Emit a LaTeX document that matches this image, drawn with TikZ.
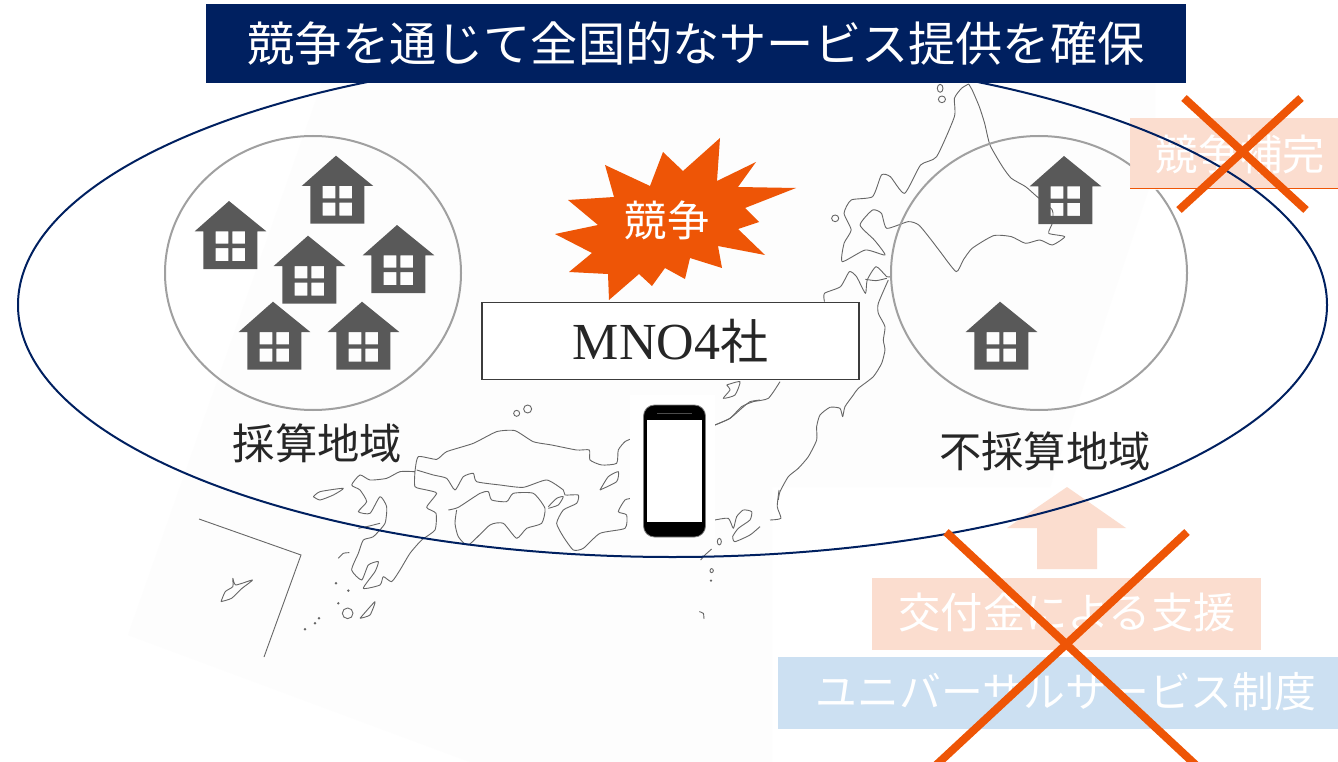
\documentclass[tikz,border=0pt]{standalone}
\usepackage{fontspec}
\setmainfont{Liberation Serif}
\newfontfamily\jp{Noto Sans CJK JP}
\definecolor{navy}{HTML}{002060}
\definecolor{burst}{HTML}{EE5506}
\definecolor{peach}{HTML}{FBDDCF}
\definecolor{paleblue}{HTML}{CCE0F2}
\definecolor{hut}{HTML}{595959}
\definecolor{ringgray}{HTML}{A0A0A0}
\definecolor{ink}{HTML}{262626}
\definecolor{coast}{HTML}{666666}
\definecolor{sheet}{HTML}{FDFDFD}
\tikzset{
  coastline/.style={draw=coast,line width=0.9pt,line join=round},
  ring/.style={draw=ringgray,line width=2pt},
  jptext/.style={font=\jp\fontsize{42.3}{46}\selectfont,inner sep=0pt},
  dimtext/.style={jptext,text=white},
  crossline/.style={draw=burst,line width=8pt},
  hutpic/.pic={
    \fill[hut,even odd rule] (0,0) -- (37.3,30.3) -- (28.3,30.3) -- (28.3,68) -- (-25.7,68) -- (-25.7,30.3) -- (-34.3,30.3) -- cycle
      (-13.3,30.3) rectangle (-0.7,42.7) (3.3,30.3) rectangle (16,42.7)
      (-13.3,47) rectangle (-0.7,60) (3.3,47) rectangle (16,60);
  }
}
\newcommand{\coastplot}[1]{\draw[coastline] plot[smooth,tension=0.35] coordinates {#1};}
\begin{document}
\begin{tikzpicture}[x=1pt,y=-1pt]
\useasboundingbox (0,0) rectangle (1338,762);
\clip (0,0) rectangle (1338,762);
\fill[white] (0,0) rectangle (1338,762);
% faint map sheet
\fill[sheet] (322,83) -- (1155,83) -- (1155,170) -- (1050,487) -- (772,487) -- (772,762) -- (470,762) -- (128,635) -- cycle;
% Hokkaido and northern Honshu
\begin{scope}[shift={(780,70)},xscale=0.3559,yscale=0.3333]
\coastplot{(530,42)(540,60)(560,110)(575,160)(590,225)(625,290)(650,325)(690,350)(720,378)(765,420)(765,460)(755,490)(800,500)(765,525)(730,510)(690,520)(650,500)(600,497)(540,535)(515,570)(495,605)(450,545)(425,510)(390,465)(360,455)(300,475)(285,430)(260,420)(225,465)(265,510)(295,555)(240,540)(175,575)(180,520)(200,480)(180,430)(200,390)(260,380)(285,315)(310,320)(350,370)(395,285)(440,260)(490,140)(490,85)(510,55)(530,42)}
\draw[coastline] (450,55) ellipse [x radius=8,y radius=12];
\draw[coastline] (455,88) ellipse [x radius=10,y radius=10];
\draw[coastline] (155,445) ellipse [x radius=10,y radius=10];
\coastplot{(125,695)(125,670)(170,650)(195,605)(215,620)(240,670)(245,630)(270,590)(300,620)(310,620)}
\coastplot{(240,628)(270,632)(300,625)}
\end{scope}
% eastern Honshu
\begin{scope}[shift={(690,280)},xscale=0.3333,yscale=0.3333]
\coastplot{(595,0)(565,70)(565,100)(585,140)(580,180)(585,210)(575,250)(550,290)(505,325)(490,345)(465,380)(458,410)(450,385)(420,382)(390,405)(380,440)(380,480)(355,530)(325,565)(295,590)(270,635)(265,660)}
\coastplot{(75,435)(120,415)(155,380)(190,365)(235,355)(270,305)}
\coastplot{(110,315)(150,305)(135,345)(100,355)(120,330)(110,315)}
\end{scope}
% Izu, Kii end and small islands
\begin{scope}[shift={(630,395)},xscale=0.3333,yscale=0.3333]
\coastplot{(255,90)(300,70)(335,40)(360,20)(390,15)}
\coastplot{(255,375)(295,370)(310,400)(320,365)(340,345)(365,350)(360,375)(325,400)(308,425)(315,440)(360,420)(390,395)}
\draw[coastline] (268,440) ellipse [x radius=6,y radius=10];
\draw[coastline] (245,527) ellipse [x radius=5,y radius=6];
\fill[coast] (243,557) circle [radius=4];
\coastplot{(208,650)(220,655)(222,672)}
\coastplot{(212,495)(225,480)(245,462)}
\end{scope}
\begin{scope}[shift={(770,480)},xscale=0.3623,yscale=0.3333]
\coastplot{(25,30)(20,80)(30,115)(0,120)}
\end{scope}
% western Japan
\begin{scope}[shift={(300,400)},xscale=0.3333,yscale=0.3333]
\coastplot{(998,115)(975,125)(955,150)(950,190)(905,195)(870,180)(868,150)(830,150)(755,135)(700,125)(645,92)(590,95)(520,130)(440,155)(410,178)(355,170)(345,215)}
\coastplot{(350,210)(400,225)(440,235)(465,270)(490,230)(520,220)(530,245)(600,255)(670,262)(740,240)(790,270)(795,285)(835,285)(830,310)(790,330)(770,370)(790,410)(820,450)(850,445)(900,400)(975,385)(980,345)(955,335)(975,300)(998,295)}
\coastplot{(345,215)(300,215)(260,235)(210,240)(180,225)(155,255)(180,270)(200,305)(175,335)(210,340)(240,290)(260,320)(255,370)(220,410)(190,420)(175,460)(155,510)(185,540)(205,495)(235,485)(225,515)(190,565)(240,555)(250,530)(275,545)(300,510)(330,460)(365,420)(405,390)(408,340)(380,322)(410,280)(380,270)(345,260)(345,215)}
\coastplot{(445,330)(475,322)(540,280)(565,275)(575,300)(620,305)(640,280)(700,280)(735,325)(725,370)(680,385)(650,415)(610,370)(570,375)(505,435)(475,410)(465,370)(470,330)}
\coastplot{(745,320)(770,295)(790,290)(775,315)(745,325)}
\coastplot{(900,270)(925,230)(955,215)(950,245)(900,270)}
\coastplot{(40,290)(60,275)(130,265)(100,285)(60,300)(40,290)}
\coastplot{(115,475)(130,460)(148,458)}
\coastplot{(180,655)(225,605)(210,645)(180,655)}
\coastplot{(175,385)(200,380)(240,370)}
\draw[coastline] (683,27) circle [radius=12];
\draw[coastline] (650,40) circle [radius=9];
\draw[coastline] (143,640) circle [radius=16];
\foreach \dotx/\doty in {108/550,145/572,115/610,45/670,57/655,15/688}{\fill[coast] (\dotx,\doty) circle [radius=4];}
\end{scope}
% Okinawa and its frame
\begin{scope}[shift={(120,390)},xscale=0.4209,yscale=0.3333]
\coastplot{(240,635)(250,605)(268,590)(268,565)(275,585)(315,570)(290,595)(265,625)(240,635)}
\end{scope}
\draw[coast,line width=0.9pt] (199,519) -- (301,555) -- (264,657);
% orange-tinted and blue strips
\fill[peach] (1130,118) rectangle (1338,189);
\draw[burst,line width=1pt] (1130,189) -- (1338,189);
\node[dimtext] (hokan) at (1240,154) {競争補完};
\fill[peach] (1067,487) -- (1126,528) -- (1097,528) -- (1097,569) -- (1037,569) -- (1037,528) -- (1007,528) -- cycle;
\node[fill=peach,minimum width=389pt,minimum height=72pt,inner sep=0pt] (shienbox) at (1066.5,614) {};
\node[dimtext] (shien) at (1067,612) {交付金による支援};
\node[fill=paleblue,minimum width=560pt,minimum height=72pt,inner sep=0pt] (seidobox) at (1058,693) {};
\node[dimtext,font=\jp\fontsize{41.8}{46}\selectfont] (seido) at (1066,692) {ユニバーサルサービス制度};
% rings
\draw[ring] (313,273) ellipse [x radius=148,y radius=137];
\begin{scope}
\clip (880,120) rectangle (1130,420) (1130,190) rectangle (1200,420);
\draw[ring] (1039,273) ellipse [x radius=148,y radius=137];
\end{scope}
% large ellipse
\draw[navy,line width=2pt] (672.5,305) ellipse [x radius=654.5,y radius=252];
% title banner
\node[fill=navy,text=white,font=\jp\fontsize{47.2}{50}\selectfont,minimum width=980pt,minimum height=79pt,inner sep=0pt] (title) at (696,43.5) {競争を通じて全国的なサービス提供を確保};
% houses
\foreach \hx/\hy/\hname in {336/155.7/a,229/201/b,308/235.7/c,397/225/d,273/301.7/e,362/301.7/f,1064/156/g,1000/301.7/h}{
  \pic (hut\hname) at (\hx,\hy) {hutpic};
}
% burst
\fill[burst] (720,138) -- (717,181) -- (756,162) -- (738,187) -- (796,188) -- (745,208) -- (759,222) -- (738,229) -- (765,255) -- (718,246) -- (722,268) -- (690,258) -- (685,279) -- (665,268) -- (652,286) -- (639,274) -- (609,300) -- (608,274) -- (569,272) -- (592,253) -- (555,234) -- (598,225) -- (568,200) -- (614,197) -- (605,165) -- (650,186) -- (663,152) -- (683,171) -- cycle;
\node[jptext,text=white] (kyoso) at (667,220) {競争};
% MNO box
\node[draw=ink!90,fill=white,line width=1.5pt,minimum width=377pt,minimum height=77pt,inner sep=0pt,font=\fontsize{52}{54}\selectfont,text=ink] (mno) at (670.5,341) {MNO4{\jp\fontsize{48}{54}\selectfont 社}};
% labels
\node[jptext,text=ink] (saisan) at (317.5,443) {採算地域};
\node[jptext,text=ink] (fusaisan) at (1045,451) {不採算地域};
% phone
\fill[white] (630,395) rectangle (715,540);
\node[fill=black,draw=black!50,line width=0.8pt,rounded corners=11pt,minimum width=62pt,minimum height=132pt,inner sep=0pt] (phone) at (674.5,471) {};
\node[fill=white,minimum width=55pt,minimum height=102pt,inner sep=0pt] (screen) at (674.5,471) {};
\fill[black!70] (657,412.5) rectangle (692,413.5);
% crosses
\draw[crossline] (1184,98) -- (1306,210);
\draw[crossline] (1301,98) -- (1179,210);
\draw[crossline] (946,532) -- (1199,768);
\draw[crossline] (1187,532) -- (933,768);
\end{tikzpicture}
\end{document}
